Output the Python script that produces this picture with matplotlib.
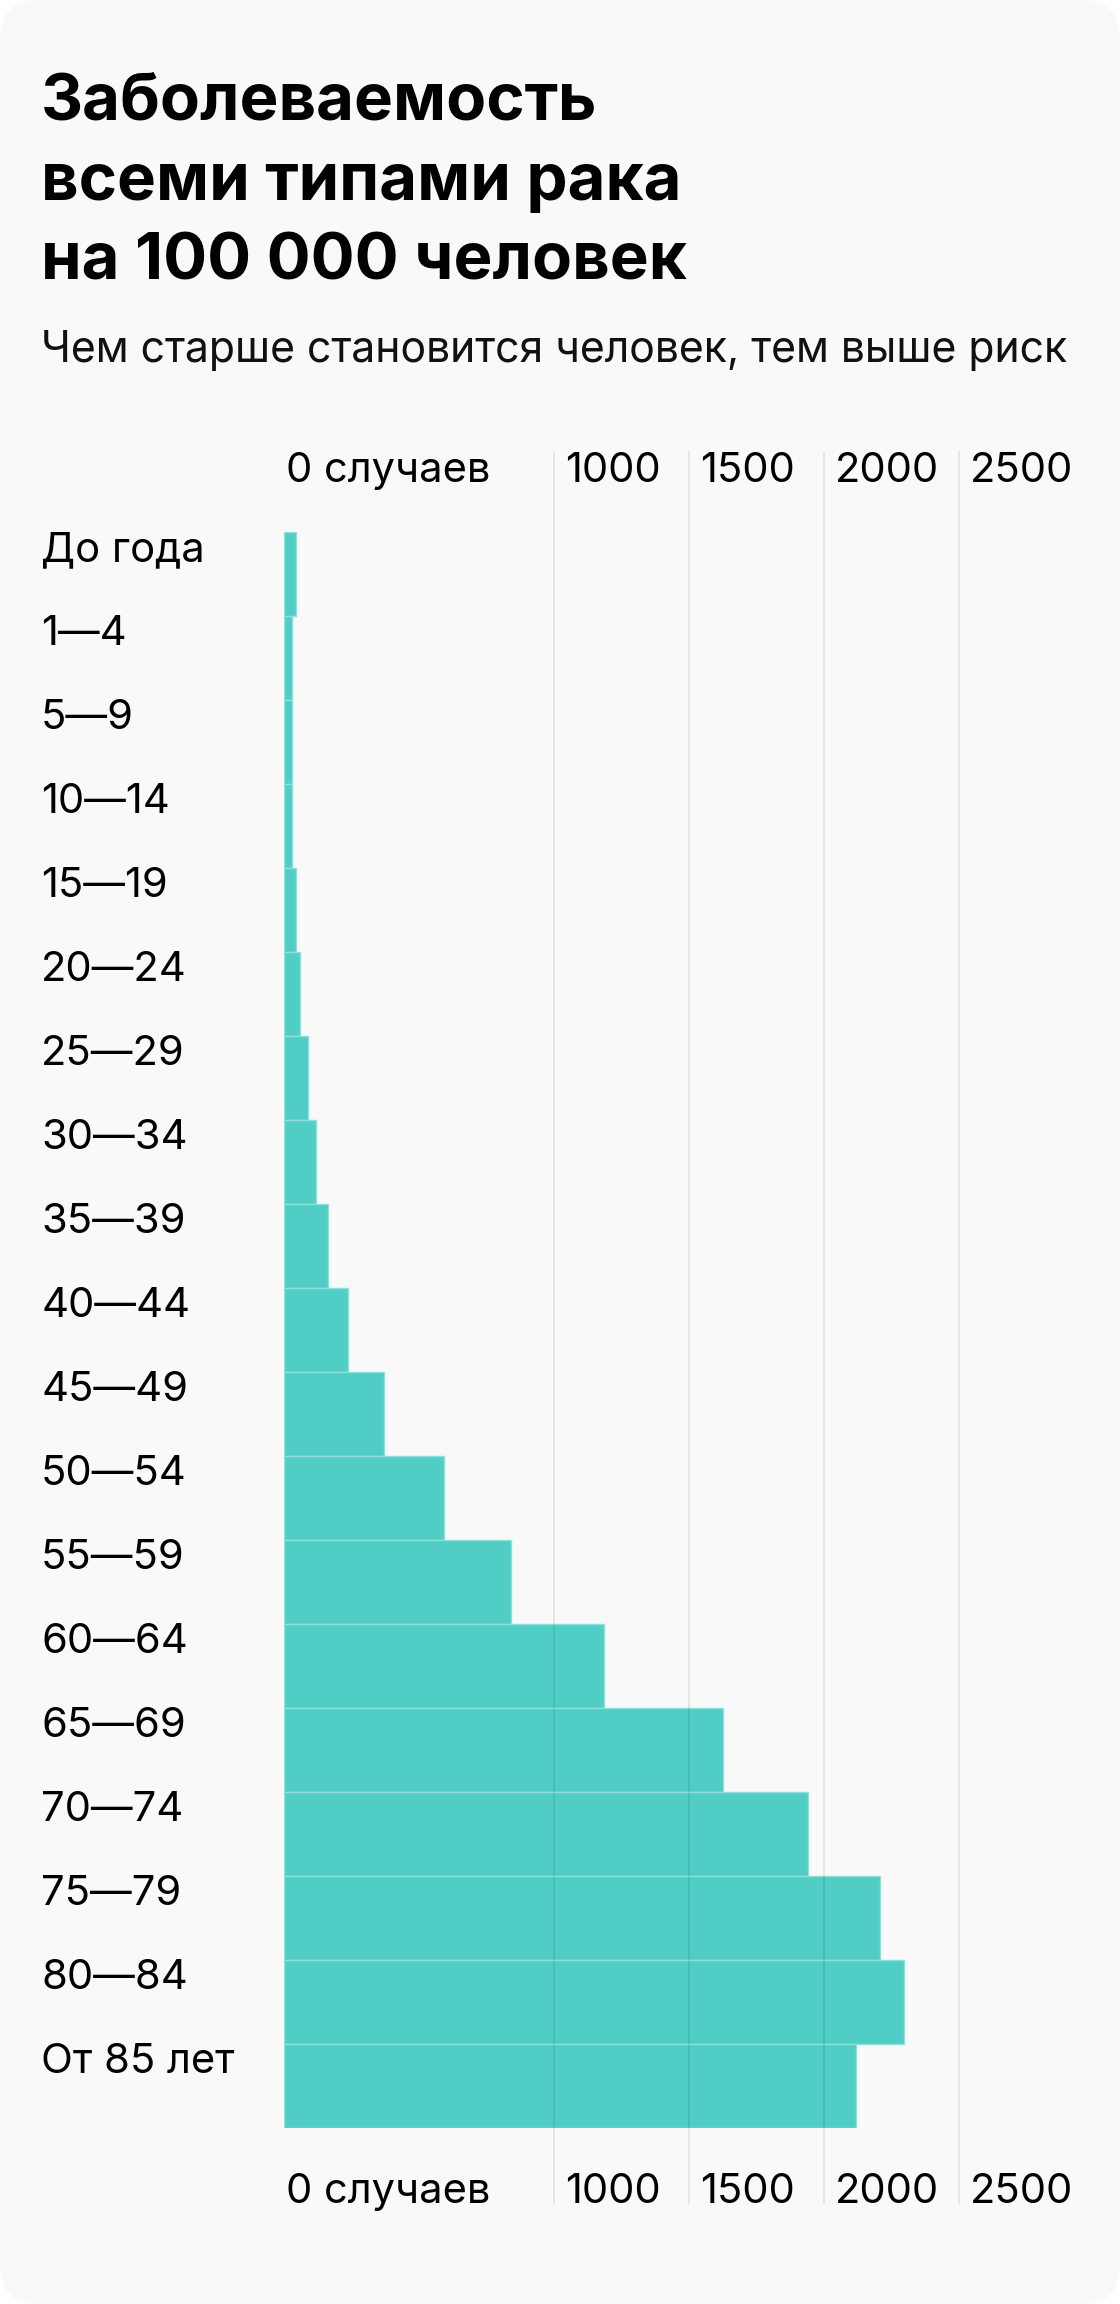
import matplotlib
matplotlib.use("Agg")
import matplotlib.pyplot as plt
from matplotlib import transforms
from matplotlib.patches import FancyBboxPatch

plt.rcParams['font.family'] = ['Inter', 'DejaVu Sans']

# данные: заболеваемость на 100 000 человек по возрастным группам
ages = ['До года', '1—4', '5—9', '10—14', '15—19', '20—24', '25—29', '30—34',
        '35—39', '40—44', '45—49', '50—54', '55—59', '60—64', '65—69',
        '70—74', '75—79', '80—84', 'От 85 лет']
cases = [43, 28, 28, 28, 43, 58, 88, 117, 162, 236, 369, 591, 841, 1184,
         1626, 1940, 2206, 2295, 2117]
ticks = [0, 1000, 1500, 2000, 2500]
tick_labels = ['0 случаев', '1000', '1500', '2000', '2500']

title_lines = ['Заболеваемость', 'всеми типами рака', 'на 100 000 человек']
subtitle = 'Чем старше становится человек, тем выше риск'

W, H = 1120, 2304
fig = plt.figure(figsize=(W / 100, H / 100), dpi=100)
fig.patch.set_facecolor('white')
bg = FancyBboxPatch((0, 0), 1, 1, boxstyle='round,pad=0,rounding_size=0.035',
                    transform=fig.transFigure, facecolor='#f9f9f9',
                    edgecolor='none', mutation_aspect=W / H, zorder=-10)
fig.patches.append(bg)

# заголовок
for i, line in enumerate(title_lines):
    fig.text(41 / W, 1 - (120 + 80 * i) / H, line, fontsize=47, fontweight='bold',
             va='baseline', ha='left', color='black')
fig.text(41 / W, 1 - 362 / H, subtitle, fontsize=30.8, va='baseline',
         ha='left', color='#111111')

# область графика
top, bottom = 532, 2128
left = 284
xmax = 2600
px_per_unit = 0.27
ax = fig.add_axes([left / W, 1 - bottom / H, xmax * px_per_unit / W, (bottom - top) / H])
ax.set_facecolor('none')
ax.set_xlim(0, xmax)
ax.set_ylim(len(ages) - 0.5, -0.5)
ax.barh(range(len(ages)), cases, height=1.0, color='#50cec5',
        edgecolor='#8fe0da', linewidth=1.0, zorder=2)
ax.axis('off')

ax_h = bottom - top
y_hi = 1 + 80 / ax_h
y_lo = -75 / ax_h
for t in ticks[1:]:
    ax.axvline(t, ymin=y_lo, ymax=y_hi, color='black', alpha=0.1,
               linewidth=1.1, zorder=3, clip_on=False)

xt = ax.get_xaxis_transform()
for t, lab in zip(ticks, tick_labels):
    dx = 2 if t == 0 else 11
    tr = transforms.offset_copy(xt, fig=fig, x=dx, y=0, units='dots')
    ax.text(t, y_hi, lab, transform=tr, fontsize=30, va='top', ha='left', color='black')
    ax.text(t, y_lo, lab, transform=tr, fontsize=30, va='baseline', ha='left', color='black')

# подписи возрастных групп
lab_tr = transforms.blended_transform_factory(fig.transFigure, ax.transData)
lab_tr = transforms.offset_copy(lab_tr, fig=fig, x=0, y=-29, units='dots')
for i, a in enumerate(ages):
    ax.text(41 / W, i - 0.5, a, transform=lab_tr, fontsize=30, va='baseline',
            ha='left', color='black')

fig.savefig('out.png', dpi=100, facecolor=fig.get_facecolor())
